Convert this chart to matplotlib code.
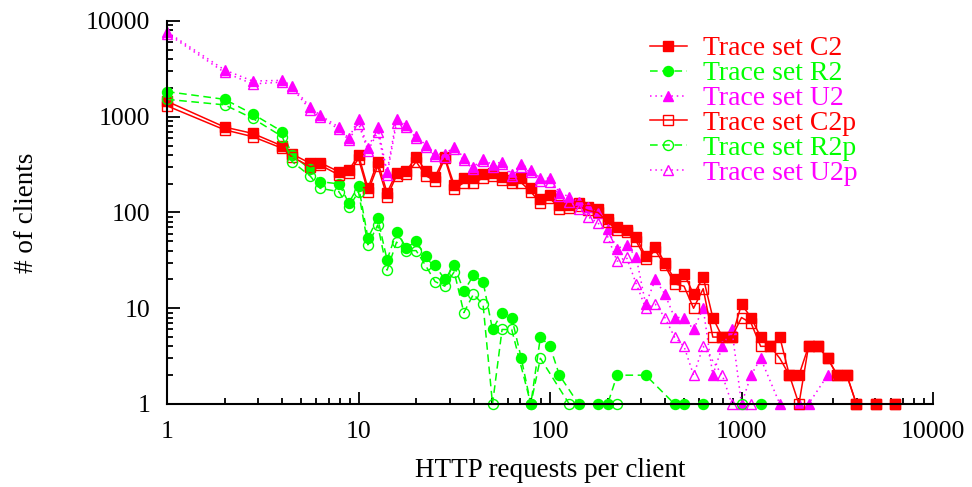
import numpy as np
import matplotlib
matplotlib.use("Agg")
import matplotlib.pyplot as plt
from matplotlib.ticker import LogLocator, NullFormatter, FixedLocator

plt.rcParams['font.family'] = ['Liberation Serif', 'DejaVu Serif']

# bin centres (requests per client)
requests = [1, 2, 2.8, 4, 4.5, 5.6, 6.3, 7.9, 8.9,
            10, 11.2, 12.6, 14.1, 15.8, 17.8, 20, 22.4, 25.1, 28.2,
            31.6, 35.5, 39.8, 44.7, 50.1, 56.2, 63.1, 70.8, 79.4, 89.1,
            100, 112, 126, 141, 158, 178, 200, 224, 251, 282,
            316, 355, 398, 447, 501, 562, 631, 708, 794, 891,
            1000, 1122, 1259, 1413, 1585, 1778, 1995, 2239, 2512, 2818,
            3162, 3548, 3981, 4467, 5012, 5623, 6310]

# number of clients per bin (0 = empty bin, not drawn)
c2 = [1450, 780, 670, 495, 408, 326, 331, 267, 275,
      400, 179, 340, 161, 261, 271, 383, 271, 236, 383,
      194, 228, 228, 250, 261, 236, 218, 228, 179, 137,
      152, 120, 120, 126, 115, 108, 85, 70, 66, 55,
      35, 44, 30, 20, 23, 14, 21, 8, 5, 5,
      11, 8, 5, 4, 5, 2, 2, 4, 4, 3,
      2, 2, 1, 0, 1, 0, 1]
c2p = [1300, 730, 620, 468, 380, 301, 313, 247, 257,
       365, 165, 306, 146, 243, 250, 340, 243, 213, 368,
       176, 205, 205, 228, 243, 220, 205, 205, 165, 125,
       141, 110, 112, 116, 105, 100, 80, 65, 62, 50,
       33, 40, 28, 18, 17, 10, 16, 5, 5, 5,
       8, 7, 4, 4, 3, 2, 1, 4, 4, 3,
       2, 2, 1, 0, 1, 0, 1]
r2 = [1830, 1520, 1070, 700, 400, 282, 210, 199, 126,
      190, 54, 87, 32, 62, 43, 50, 35, 28, 20,
      28, 15, 22, 19, 6, 9, 8, 3, 1, 5,
      4, 2, 0, 1, 0, 1, 1, 2, 0, 0,
      2, 0, 0, 1, 1, 0, 1, 0, 0, 0,
      0, 0, 1, 0, 0, 0, 0, 0, 0, 0,
      0, 0, 0, 0, 0, 0, 0]
r2p = [1520, 1330, 963, 620, 340, 240, 179, 165, 113,
       165, 46, 74, 25, 49, 40, 40, 28, 19, 17,
       24, 9, 14, 11, 1, 6, 6, 0, 1, 3,
       0, 0, 1, 0, 0, 0, 0, 1, 0, 0,
       0, 0, 0, 0, 0, 0, 0, 0, 0, 0,
       1, 0, 0, 0, 0, 0, 0, 0, 0, 0,
       0, 0, 0, 0, 0, 0, 0]
u2 = [7700, 3080, 2360, 2400, 2090, 1256, 1040, 777, 596,
      950, 468, 777, 267, 950, 820, 630, 507, 408, 408,
      486, 374, 301, 362, 313, 340, 252, 321, 278, 228,
      228, 161, 146, 130, 115, 98, 67, 42, 46, 34,
      11, 20, 14, 8, 8, 6, 10, 2, 4, 6,
      1, 2, 3, 0, 1, 0, 1, 1, 0, 2,
      0, 0, 0, 0, 0, 0, 0]
u2p = [7400, 2900, 2200, 2300, 2000, 1180, 990, 740, 570,
       850, 440, 694, 247, 870, 790, 600, 480, 390, 380,
       460, 350, 285, 345, 300, 320, 240, 300, 262, 215,
       210, 150, 130, 110, 90, 78, 56, 31, 34, 18,
       10, 11, 8, 5, 4, 2, 4, 0, 2, 1,
       0, 1, 0, 0, 0, 0, 0, 0, 0, 0,
       0, 0, 0, 0, 0, 0, 0]

labels = ["Trace set C2", "Trace set R2", "Trace set U2",
          "Trace set C2p", "Trace set R2p", "Trace set U2p"]

RED, GREEN, MAGENTA = "#ff0000", "#00ff00", "#ff00ff"

fig = plt.figure(figsize=(9.72, 4.87), dpi=100)
ax = fig.add_axes([167/972, 1-404/487, (933-167)/972, (404-21)/487])

x = np.array(requests, dtype=float)


def draw(vals, color, ls, marker, filled, label, ms):
    v = np.array(vals, dtype=float)
    m = v > 0
    ax.plot(x[m], v[m], color=color, linestyle=ls, linewidth=1.1,
            marker=marker, markersize=ms,
            markerfacecolor=color if filled else 'none',
            markeredgecolor=color, markeredgewidth=1.0, label=label,
            clip_on=False)


draw(c2, RED, '-', 's', True, labels[0], 7.8)
draw(r2, GREEN, (0, (5, 3)), 'o', True, labels[1], 7.2)
draw(u2, MAGENTA, (0, (1, 2.5)), '^', True, labels[2], 7.2)
draw(c2p, RED, '-', 's', False, labels[3], 7.8)
draw(r2p, GREEN, (0, (5, 3)), 'o', False, labels[4], 7.2)
draw(u2p, MAGENTA, (0, (1, 2.5)), '^', False, labels[5], 7.2)

ax.set_xscale('log')
ax.set_yscale('log')
ax.set_xlim(1, 10000)
ax.set_ylim(1, 10000)

for s in ['top', 'right']:
    ax.spines[s].set_visible(False)
for s in ['left', 'bottom']:
    ax.spines[s].set_linewidth(1.5)

ax.xaxis.set_major_locator(FixedLocator([1, 10, 100, 1000, 10000]))
ax.yaxis.set_major_locator(FixedLocator([1, 10, 100, 1000, 10000]))
ax.set_xticklabels(["1", "10", "100", "1000", "10000"])
ax.set_yticklabels(["1", "10", "100", "1000", "10000"])
ax.xaxis.set_minor_locator(LogLocator(base=10, subs=np.arange(2, 10)))
ax.yaxis.set_minor_locator(LogLocator(base=10, subs=np.arange(2, 10)))
ax.xaxis.set_minor_formatter(NullFormatter())
ax.yaxis.set_minor_formatter(NullFormatter())
ax.tick_params(which='major', direction='in', length=9, width=1.3,
               labelsize=18.5)
ax.tick_params(which='minor', direction='in', length=4.5, width=1.3)
ax.tick_params(axis='x', which='major', pad=12)
ax.tick_params(axis='y', which='major', pad=12)

ax.set_xlabel("HTTP requests per client", fontsize=19.5, labelpad=11)
ax.set_ylabel("# of clients", fontsize=19.5, labelpad=34)

leg = ax.legend(loc='upper left', bbox_to_anchor=(650/972, 1-36/487),
                bbox_transform=fig.transFigure, frameon=False,
                fontsize=20, handlelength=1.33, handletextpad=0.58,
                labelspacing=-0.02, borderpad=0, borderaxespad=0,
                labelcolor='linecolor')

fig.savefig("out.png", dpi=100)
